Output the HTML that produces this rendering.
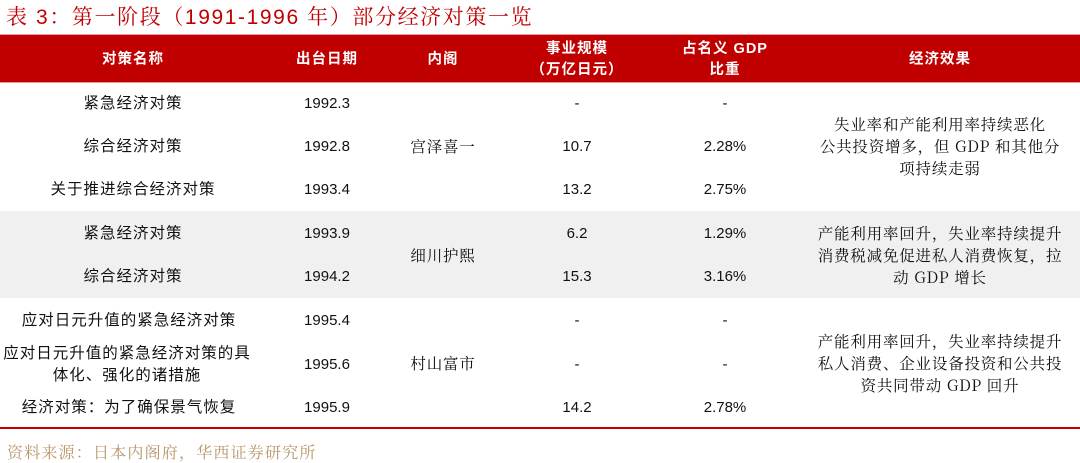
<!DOCTYPE html>
<html><head><meta charset="utf-8"><style>
body{margin:0;width:1080px;height:463px;background:#fff;position:relative;overflow:hidden;font-family:"Liberation Sans","Noto Sans CJK SC",sans-serif;}
.a{position:absolute;white-space:nowrap;transform:translate(-50%,-50%);margin-top:2px;font-size:15px;color:#111;text-align:center;line-height:22px}
.c{font-size:15.5px;letter-spacing:1px}
.h{color:#fff;font-weight:bold;font-size:14.5px;line-height:21px;letter-spacing:1px;margin-top:0}
.s{font-family:"Noto Serif CJK SC","Liberation Serif",serif;font-size:15.5px;letter-spacing:0.8px;margin-top:0}
</style></head><body>
<div style="position:absolute;left:6px;top:1px;font-size:21px;letter-spacing:1.6px;color:#c00000;font-family:'Liberation Sans','Noto Serif CJK SC',serif;white-space:nowrap">表 3：第一阶段（1991-1996 年）部分经济对策一览</div>
<div style="position:absolute;left:0;top:34px;width:1080px;height:47px;background:#c00000;border-top:1px solid #e89a9a;border-bottom:1px solid #e89a9a"></div>
<div style="position:absolute;left:0;top:211px;width:1080px;height:87px;background:#f0f0f0"></div>
<div style="position:absolute;left:0;top:427px;width:1080px;height:2px;background:#c00000"></div>
<div class="a h" style="left:133px;top:60px">对策名称</div>
<div class="a h" style="left:327px;top:60px">出台日期</div>
<div class="a h" style="left:443px;top:60px">内阁</div>
<div class="a h" style="left:577px;top:60px">事业规模<br>（万亿日元）</div>
<div class="a h" style="left:725px;top:60px">占名义 GDP<br>比重</div>
<div class="a h" style="left:940px;top:60px">经济效果</div>

<div class="a c" style="left:133px;top:102px">紧急经济对策</div>
<div class="a c" style="left:133px;top:145px">综合经济对策</div>
<div class="a c" style="left:133px;top:188px">关于推进综合经济对策</div>
<div class="a c" style="left:133px;top:232px">紧急经济对策</div>
<div class="a c" style="left:133px;top:275px">综合经济对策</div>
<div class="a c" style="left:129px;top:319px">应对日元升值的紧急经济对策</div>
<div class="a c" style="left:127px;top:363px">应对日元升值的紧急经济对策的具<br>体化、强化的诸措施</div>
<div class="a c" style="left:129px;top:406px">经济对策：为了确保景气恢复</div>

<div class="a" style="left:327px;top:102px">1992.3</div>
<div class="a" style="left:327px;top:145px">1992.8</div>
<div class="a" style="left:327px;top:188px">1993.4</div>
<div class="a" style="left:327px;top:232px">1993.9</div>
<div class="a" style="left:327px;top:275px">1994.2</div>
<div class="a" style="left:327px;top:319px">1995.4</div>
<div class="a" style="left:327px;top:363px">1995.6</div>
<div class="a" style="left:327px;top:406px">1995.9</div>

<div class="a s" style="left:443px;top:146px">宫泽喜一</div>
<div class="a s" style="left:443px;top:255px">细川护熙</div>
<div class="a s" style="left:443px;top:363px">村山富市</div>

<div class="a" style="left:577px;top:102px">-</div>
<div class="a" style="left:577px;top:145px">10.7</div>
<div class="a" style="left:577px;top:188px">13.2</div>
<div class="a" style="left:577px;top:232px">6.2</div>
<div class="a" style="left:577px;top:275px">15.3</div>
<div class="a" style="left:577px;top:319px">-</div>
<div class="a" style="left:577px;top:363px">-</div>
<div class="a" style="left:577px;top:406px">14.2</div>

<div class="a" style="left:725px;top:102px">-</div>
<div class="a" style="left:725px;top:145px">2.28%</div>
<div class="a" style="left:725px;top:188px">2.75%</div>
<div class="a" style="left:725px;top:232px">1.29%</div>
<div class="a" style="left:725px;top:275px">3.16%</div>
<div class="a" style="left:725px;top:319px">-</div>
<div class="a" style="left:725px;top:363px">-</div>
<div class="a" style="left:725px;top:406px">2.78%</div>

<div class="a s" style="left:940px;top:146px">失业率和产能利用率持续恶化<br>公共投资增多，但 GDP 和其他分<br>项持续走弱</div>
<div class="a s" style="left:940px;top:255px">产能利用率回升，失业率持续提升<br>消费税减免促进私人消费恢复，拉<br>动 GDP 增长</div>
<div class="a s" style="left:940px;top:363px">产能利用率回升，失业率持续提升<br>私人消费、企业设备投资和公共投<br>资共同带动 GDP 回升</div>

<div style="position:absolute;left:7px;top:440px;font-size:16px;letter-spacing:1.2px;color:#b8956a;font-family:'Noto Serif CJK SC',serif;white-space:nowrap">资料来源：日本内阁府，华西证券研究所</div>
</body></html>
